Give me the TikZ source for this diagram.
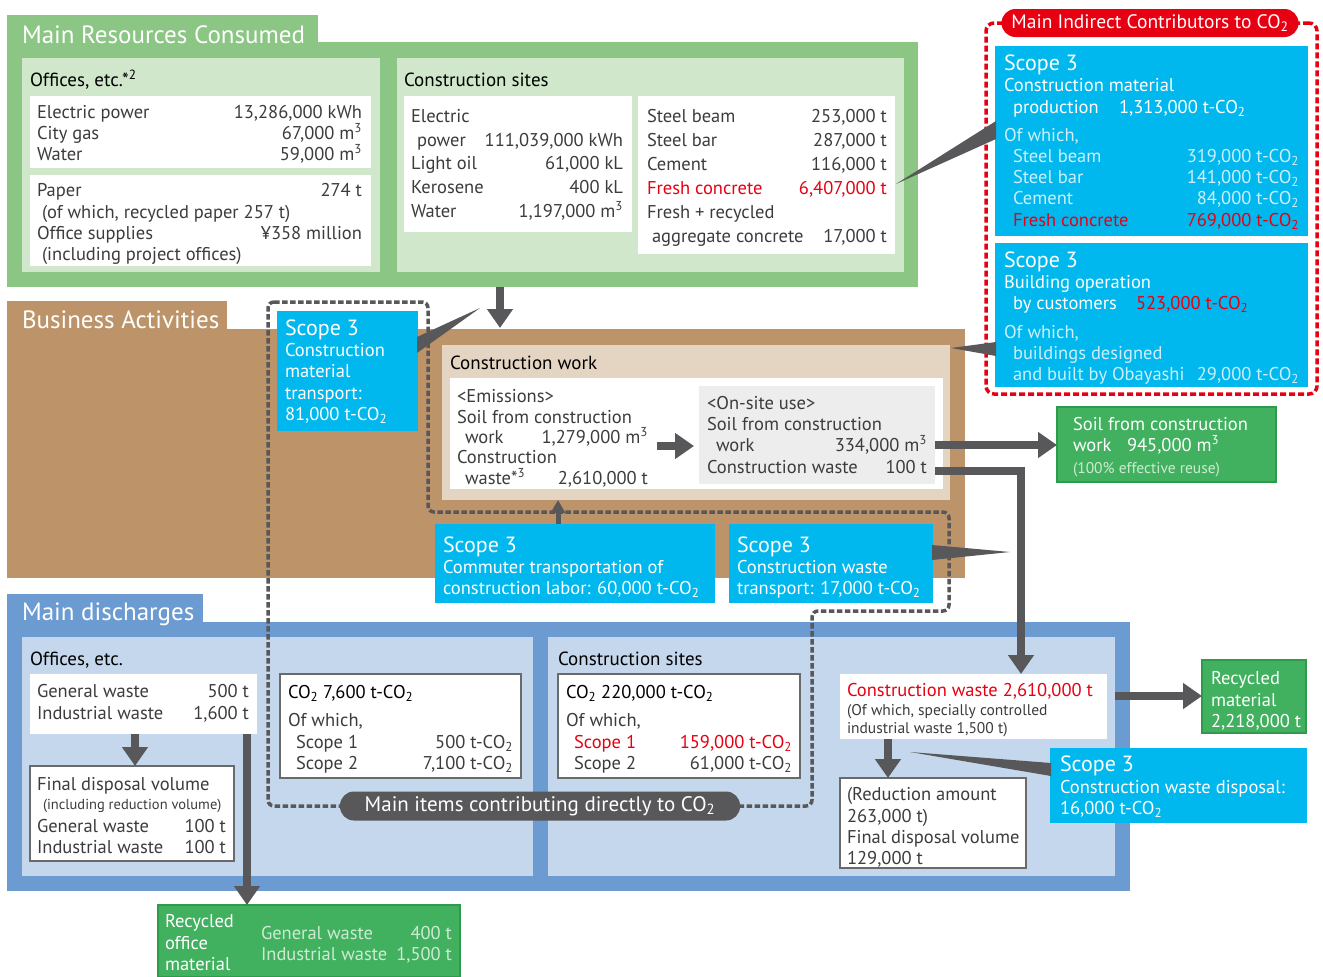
\documentclass[tikz,border=0pt]{standalone}
\usepackage{fontspec}
\setmainfont{PT Sans}
\usetikzlibrary{arrows.meta}
\definecolor{gout}{HTML}{8CC684}
\definecolor{gin}{HTML}{D0E7CB}
\definecolor{bout}{HTML}{BD9469}
\definecolor{bin}{HTML}{E4D4C2}
\definecolor{gry}{HTML}{EDEDED}
\definecolor{blout}{HTML}{6C9BD2}
\definecolor{blin}{HTML}{C4D7EC}
\definecolor{cy}{HTML}{00B8EE}
\definecolor{ag}{HTML}{58585A}
\definecolor{gbox}{HTML}{41B15F}
\definecolor{gboxd}{HTML}{2E9A4C}
\definecolor{rd}{HTML}{E60012}
\definecolor{bodyc}{HTML}{3C3C3C}
\definecolor{palec}{HTML}{CDEFFB}
\definecolor{paleg}{HTML}{CDEBD2}
\definecolor{bordc}{HTML}{6A6A6A}
\newcommand{\fH}{\fontsize{25}{28}\selectfont}
\newcommand{\fB}{\fontsize{18.5}{21}\selectfont}
\newcommand{\fL}{\fontsize{19}{21}\selectfont}
\newcommand{\fS}{\fontsize{22}{24}\selectfont}
\newcommand{\fs}{\fontsize{15.5}{18}\selectfont}
\newcommand{\fss}{\fontsize{14.5}{17}\selectfont}
\newcommand{\fP}{\fontsize{21}{24}\selectfont}
\newcommand{\fR}{\fontsize{19.5}{22}\selectfont}
\newcommand{\cotwo}{CO\textsubscript{2}}
\newcommand{\mcube}{m\textsuperscript{3}}
\newcommand{\rbox}[6]{\node[#6, anchor=north west, minimum width=#4pt, minimum height=#5pt, inner sep=0pt, outer sep=0pt] (#1) at (#2,#3) {};}
\newcommand{\T}[4][]{\node[txt,#1] (#2) at (#3) {#4};}
\newcommand{\V}[4][]{\node[val,#1] (#2) at (#3) {#4};}
\begin{document}
\begin{tikzpicture}[x=1pt,y=-1pt,
  txt/.style={anchor=base west, inner sep=0pt, outer sep=0pt, font=\fB, text=bodyc},
  val/.style={txt, anchor=base east},
  lbl/.style={font=\fL, text=black},
  hdr/.style={font=\fH, text=white},
  wt/.style={text=white},
  pc/.style={text=palec},
  pg/.style={text=paleg},
  red/.style={text=rd},
  sc/.style={font=\fS, text=white},
  arr/.style={draw=ag, line width=8pt, -{Triangle[width=25pt,length=19pt]}},
  wedge/.style={fill=ag, draw=none},
  bordbox/.style={fill=white, draw=bordc, line width=1.5pt}
]
\useasboundingbox (0,0) rectangle (1323,977);

% ===== GREEN: Main Resources Consumed =====
\rbox{gtab}{7}{15}{311}{30}{fill=gout}
\rbox{gmain}{7}{42}{911}{245}{fill=gout}
\T[hdr]{gh}{22,43}{Main Resources Consumed}
\rbox{pA}{22}{58}{358}{214}{fill=gin}
\rbox{pB}{397}{58}{507}{214}{fill=gin}
\T[lbl]{la}{30,86}{Offices, etc.*\textsuperscript{2}}
\T[lbl]{lb}{404,86}{Construction sites}
\rbox{a1}{30}{96}{341}{72}{fill=white}
\rbox{a2}{30}{175}{341}{91}{fill=white}
\T{a1t1}{37,118}{Electric power}\V{a1v1}{362,118}{13,286,000 kWh}
\T{a1t2}{37,139}{City gas}\V{a1v2}{362,139}{67,000 \mcube}
\T{a1t3}{37,160}{Water}\V{a1v3}{362,160}{59,000 \mcube}
\T{a2t1}{37,196}{Paper}\V{a2v1}{362,196}{274 t}
\T{a2t2}{42,218}{(of which, recycled paper 257 t)}
\T{a2t3}{37,239}{Office supplies}\V{a2v3}{362,239}{¥358 million}
\T{a2t4}{42,260}{(including project offices)}
\rbox{b1}{404}{96}{228}{136}{fill=white}
\rbox{b2}{638}{96}{257}{158}{fill=white}
\T{b1t1}{411,122}{Electric}
\T{b1t2}{417,146}{power}\V{b1v2}{623,146}{111,039,000 kWh}
\T{b1t3}{411,169}{Light oil}\V{b1v3}{623,169}{61,000 kL}
\T{b1t4}{411,193}{Kerosene}\V{b1v4}{623,193}{400 kL}
\T{b1t5}{411,217}{Water}\V{b1v5}{623,217}{1,197,000 \mcube}
\T{b2t1}{647,122}{Steel beam}\V{b2v1}{887,122}{253,000 t}
\T{b2t2}{647,146}{Steel bar}\V{b2v2}{887,146}{287,000 t}
\T{b2t3}{647,170}{Cement}\V{b2v3}{887,170}{116,000 t}
\T[red]{b2t4}{647,194}{Fresh concrete}\V[red]{b2v4}{887,194}{6,407,000 t}
\T{b2t5}{647,218}{Fresh + recycled}
\T{b2t6}{652,242}{aggregate concrete}\V{b2v6}{887,242}{17,000 t}

% ===== BROWN: Business Activities =====
\rbox{btab}{7}{301}{220}{30}{fill=bout}
\rbox{bmain}{7}{329}{958}{249}{fill=bout}
\T[hdr]{bh}{22,328}{Business Activities}
\rbox{cw}{442}{345}{508}{155}{fill=bin}
\T[lbl]{cwl}{450,369}{Construction work}
\rbox{cww}{450}{378}{493}{111}{fill=white}
\rbox{cwg}{699}{386}{236}{98}{fill=gry}
\T{e1}{457,402}{<Emissions>}
\T{e2}{457,423}{Soil from construction}
\T{e3}{465,443}{work}\V{e3v}{648,443}{1,279,000 \mcube}
\T{e4}{457,463}{Construction}
\T{e5}{465,484}{waste*\textsuperscript{3}}\V{e5v}{648,484}{2,610,000 t}
\T{o1}{707,409}{<On-site use>}
\T{o2}{707,430}{Soil from construction}
\T{o3}{716,451}{work}\V{o3v}{927,451}{334,000 \mcube}
\T{o4}{707,473}{Construction waste}\V{o4v}{927,473}{100 t}

% ===== BLUE: Main discharges =====
\rbox{ltab}{7}{594}{196}{30}{fill=blout}
\rbox{lmain}{7}{622}{1123}{269}{fill=blout}
\T[hdr]{lh}{22,620}{Main discharges}
\rbox{lp1}{22}{637}{511}{239}{fill=blin}
\rbox{lp2}{548}{637}{567}{239}{fill=blin}

% dashed loop (direct contributors)
\draw[ag, line width=3.5pt, dash pattern=on 5.5pt off 2.5pt, rounded corners=6pt]
  (268,302) -- (428,302) -- (428,512) -- (949,512) -- (949,611) -- (812,611) -- (812,806) -- (268,806) -- cycle;

\T[lbl]{dl1}{30,665}{Offices, etc.}
\T[lbl]{dl2}{558,665}{Construction sites}
\rbox{d1}{30}{674}{227}{60}{fill=white}
\T{d1t1}{37,697}{General waste}\V{d1v1}{249,697}{500 t}
\T{d1t2}{37,719}{Industrial waste}\V{d1v2}{249,719}{1,600 t}
\rbox{d2}{30}{766}{204}{95}{bordbox}
\T{d2t1}{37,790}{Final disposal volume}
\T[font=\fss]{d2t2}{43,809}{(including reduction volume)}
\T{d2t3}{37,832}{General waste}\V{d2v3}{226,832}{100 t}
\T{d2t4}{37,853}{Industrial waste}\V{d2v4}{226,853}{100 t}
\rbox{c1}{280}{674}{241}{104}{bordbox}
\T[text=black]{c1t1}{288,698}{\cotwo\ 7,600 t-\cotwo}
\T{c1t2}{288,726}{Of which,}
\T{c1t3}{296,748}{Scope 1}\V{c1v3}{513,748}{500 t-\cotwo}
\T{c1t4}{296,769}{Scope 2}\V{c1v4}{513,769}{7,100 t-\cotwo}
\rbox{c2}{558}{674}{242}{104}{bordbox}
\T[text=black]{c2t1}{566,698}{\cotwo\ 220,000 t-\cotwo}
\T{c2t2}{566,726}{Of which,}
\T[red]{c2t3}{574,748}{Scope 1}\V[red]{c2v3}{792,748}{159,000 t-\cotwo}
\T{c2t4}{574,769}{Scope 2}\V{c2v4}{792,769}{61,000 t-\cotwo}
\rbox{w1}{840}{674}{267}{65}{fill=white}
\T[red]{w1t1}{847,696}{Construction waste 2,610,000 t}
\T[font=\fs]{w1t2}{847,715}{(Of which, specially controlled}
\T[font=\fs]{w1t3}{847,733}{industrial waste 1,500 t)}
\rbox{w2}{840}{778}{186}{90}{bordbox}
\T{w2t1}{847,800}{(Reduction amount}
\T{w2t2}{847,822}{263,000 t)}
\T{w2t3}{847,843}{Final disposal volume}
\T{w2t4}{847,864}{129,000 t}

% green result boxes
\rbox{rm}{1202}{660}{104}{73}{fill=gbox, draw=gboxd, line width=1.5pt}
\T[wt]{rmt1}{1211,684}{Recycled}
\T[wt]{rmt2}{1211,706}{material}
\T[wt]{rmt3}{1211,727}{2,218,000 t}
\rbox{ro}{158}{905}{302}{72}{fill=gbox, draw=gboxd, line width=1.5pt}
\T[wt]{rot1}{165,927}{Recycled}
\T[wt]{rot2}{165,949}{office}
\T[wt]{rot3}{165,970}{material}
\T[pg]{rot4}{261,939}{General waste}\V[pg]{rov4}{452,939}{400 t}
\T[pg]{rot5}{261,960}{Industrial waste}\V[pg]{rov5}{452,960}{1,500 t}
\rbox{sb}{1057}{407}{219}{75}{fill=gbox, draw=gboxd, line width=1.5pt}
\T[wt]{sbt1}{1073,430}{Soil from construction}
\T[wt]{sbt2}{1073,451}{work}\T[wt]{sbt2b}{1127,451}{945,000 \mcube}
\T[pg,font=\fs]{sbt3}{1073,473}{(100\% effective reuse)}

% ===== RED: indirect contributors =====
\rbox{rframe}{986}{23}{331}{371}{draw=rd, line width=3.5pt, dash pattern=on 6pt off 3pt, rounded corners=8pt}
\rbox{s1}{995}{46}{313}{190}{fill=cy}
\T[sc]{s1t1}{1004,70}{Scope 3}
\T[wt]{s1t2}{1004,91}{Construction material}
\T[wt]{s1t3}{1013,113}{production}\T[wt]{s1t3b}{1119,113}{1,313,000 t-\cotwo}
\T[pc]{s1t4}{1004,141}{Of which,}
\T[pc]{s1t5}{1013,162}{Steel beam}\V[pc]{s1v5}{1299,162}{319,000 t-\cotwo}
\T[pc]{s1t6}{1013,183}{Steel bar}\V[pc]{s1v6}{1299,183}{141,000 t-\cotwo}
\T[pc]{s1t7}{1013,204}{Cement}\V[pc]{s1v7}{1299,204}{84,000 t-\cotwo}
\T[red]{s1t8}{1013,226}{Fresh concrete}\V[red]{s1v8}{1299,226}{769,000 t-\cotwo}
\rbox{s2}{995}{243}{313}{144}{fill=cy}
\T[sc]{s2t1}{1004,267}{Scope 3}
\T[wt]{s2t2}{1004,288}{Building operation}
\T[wt]{s2t3}{1013,309}{by customers}\T[red]{s2t3b}{1136,309}{523,000 t-\cotwo}
\T[pc]{s2t4}{1004,338}{Of which,}
\T[pc]{s2t5}{1013,359}{buildings designed}
\T[pc]{s2t6}{1013,380}{and built by Obayashi}\V[pc]{s2v6}{1299,380}{29,000 t-\cotwo}
\node[fill=rd, rounded corners=14pt, minimum width=297pt, minimum height=28pt, inner sep=0pt, text=white, font=\fR] (redpill) at (1150,23) {Main Indirect Contributors to \cotwo};

% cyan scope boxes in activities
\rbox{s3}{277}{311}{141}{120}{fill=cy}
\T[sc]{s3t1}{285,335}{Scope 3}
\T[wt]{s3t2}{285,356}{Construction}
\T[wt]{s3t3}{285,377}{material}
\T[wt]{s3t4}{285,399}{transport:}
\T[wt]{s3t5}{285,420}{81,000 t-\cotwo}
\rbox{s4}{435}{524}{280}{79}{fill=cy}
\T[sc]{s4t1}{443,552}{Scope 3}
\T[wt]{s4t2}{443,573}{Commuter transportation of}
\T[wt]{s4t3}{443,594}{construction labor: 60,000 t-\cotwo}
\rbox{s5}{729}{524}{204}{79}{fill=cy}
\T[sc]{s5t1}{737,552}{Scope 3}
\T[wt]{s5t2}{737,573}{Construction waste}
\T[wt]{s5t3}{737,594}{transport: 17,000 t-\cotwo}
\rbox{s6}{1050}{748}{257}{75}{fill=cy}
\T[sc]{s6t1}{1060,771}{Scope 3}
\T[wt]{s6t2}{1060,793}{Construction waste disposal:}
\T[wt]{s6t3}{1060,814}{16,000 t-\cotwo}

% grey pill
\node[fill=ag, rounded corners=14pt, minimum width=400pt, minimum height=29pt, inner sep=0pt, text=white, font=\fP] (greypill) at (540,806) {Main items contributing directly to \cotwo};

% ===== arrows =====
\coordinate (g1) at (500,287); \coordinate (g2) at (500,328);
\draw[arr] (g1) -- (g2);
\coordinate (em1) at (657,446); \coordinate (em2) at (694,446);
\draw[arr] (em1) -- (em2);
\coordinate (so1) at (935,445); \coordinate (so2) at (1057,445);
\draw[arr] (so1) -- (so2);
\coordinate (wa1) at (935,471); \coordinate (wa2) at (1021,471); \coordinate (wa3) at (1021,674);
\draw[arr] (wa1) -- (wa2) -- (wa3);
\coordinate (cm1) at (558,524); \coordinate (cm2) at (558,500);
\draw[draw=ag, line width=5pt, -{Triangle[width=14pt,length=13pt]}] (cm1) -- (cm2);
\coordinate (of1) at (135,734); \coordinate (of2) at (135,766);
\draw[arr] (of1) -- (of2);
\coordinate (ol1) at (247,734); \coordinate (ol2) at (247,905);
\draw[arr] (ol1) -- (ol2);
\coordinate (cr1) at (1115,696); \coordinate (cr2) at (1202,696);
\draw[arr] (cr1) -- (cr2);
\coordinate (cd1) at (888,739); \coordinate (cd2) at (888,778);
\draw[arr] (cd1) -- (cd2);

% ===== callout wedges =====
\coordinate (wA1) at (896,184); \coordinate (wA2) at (996,121); \coordinate (wA3) at (996,139);
\fill[wedge] (wA1) -- (wA2) -- (wA3) -- cycle;
\coordinate (wB1) at (480,308); \coordinate (wB2) at (417,337); \coordinate (wB3) at (417,353);
\fill[wedge] (wB1) -- (wB2) -- (wB3) -- cycle;
\coordinate (wC1) at (951,348); \coordinate (wC2) at (996,342); \coordinate (wC3) at (996,356);
\fill[wedge] (wC1) -- (wC2) -- (wC3) -- cycle;
\coordinate (wD1) at (1010,552); \coordinate (wD2) at (932,545); \coordinate (wD3) at (932,560);
\fill[wedge] (wD1) -- (wD2) -- (wD3) -- cycle;
\coordinate (wE1) at (910,752); \coordinate (wE2) at (1051,763); \coordinate (wE3) at (1051,776);
\fill[wedge] (wE1) -- (wE2) -- (wE3) -- cycle;
\end{tikzpicture}
\end{document}
